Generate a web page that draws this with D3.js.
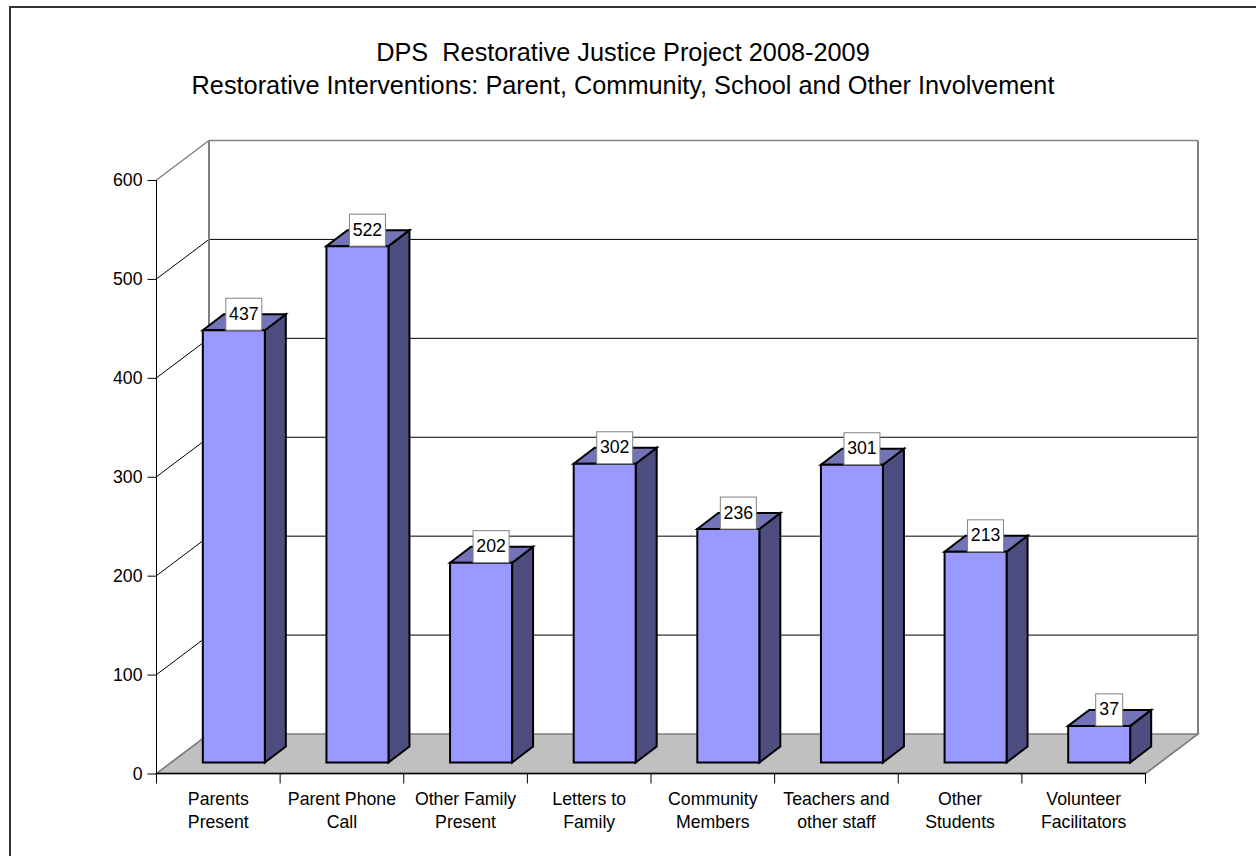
<!DOCTYPE html>
<html><head><meta charset="utf-8">
<script src="https://cdnjs.cloudflare.com/ajax/libs/d3/7.8.5/d3.min.js"></script>
<style>html,body{margin:0;padding:0;background:#fff}svg{display:block}text{font-family:"Liberation Sans",Arial,sans-serif;fill:#000}</style>
</head><body><svg id="c" width="1256" height="856"></svg>
<script>
const titleLines=["DPS  Restorative Justice Project 2008-2009","Restorative Interventions: Parent, Community, School and Other Involvement"];
const categories=[["Parents","Present"],["Parent Phone","Call"],["Other Family","Present"],["Letters to","Family"],["Community","Members"],["Teachers and","other staff"],["Other","Students"],["Volunteer","Facilitators"]];
const values=[437,522,202,302,236,301,213,37];
const yTicks=[0,100,200,300,400,500,600];

const svg=d3.select("#c");
const X0=156.5,X1=1145.5,Y0=773.5,Y6=180;
const WX=52.5,WY=39.5;          // wall depth
const BOFF=15.5,BLIFT=11;        // bar front offset from axis plane
const BDX=21,BDY=16,BW=62;       // bar depth, width
const x=d3.scaleBand().domain(d3.range(values.length)).range([X0,X1]);
const y=d3.scaleLinear().domain([0,600]).range([Y0,Y6]);

svg.append("rect").attr("x",10).attr("y",7).attr("width",1400).attr("height",1000).attr("fill","#fff").attr("stroke","#333").attr("stroke-width",2);

const poly=(pts,fill,stroke,sw)=>svg.append("polygon").attr("points",pts.map(p=>p.join(",")).join(" ")).attr("fill",fill).attr("stroke",stroke).attr("stroke-width",sw).attr("stroke-linejoin","miter");
const line=(a,b,c,sw)=>svg.append("line").attr("x1",a[0]).attr("y1",a[1]).attr("x2",b[0]).attr("y2",b[1]).attr("stroke",c).attr("stroke-width",sw);

// floor
poly([[X0,Y0],[X0+WX,Y0-WY],[X1+WX,Y0-WY],[X1,Y0]],"#c0c0c0","#808080",1.5);
// gridlines on side and back walls
yTicks.slice(1,-1).forEach(t=>{
  line([X0,y(t)],[X0+WX,y(t)-WY],"#000",1);
  line([X0+WX,y(t)-WY],[X1+WX,y(t)-WY],"#000",1);
});
// wall outline
line([X0,Y6],[X0+WX,Y6-WY],"#808080",1.5);
line([X0+WX,Y6-WY],[X1+WX,Y6-WY],"#808080",1.5);
line([X0+WX,Y6-WY],[X0+WX,Y0-WY],"#808080",2);
line([X1+WX,Y6-WY],[X1+WX,Y0-WY],"#808080",2);
line([X0,Y0],[X0+WX,Y0-WY],"#808080",1.5);
line([X1,Y0],[X1+WX,Y0-WY],"#808080",1.5);

// axes
const yAxis=d3.axisLeft(y).tickValues(yTicks).tickSize(9).tickPadding(5).tickFormat(d3.format("d"));
const ya=svg.append("g").attr("transform",`translate(${X0},0)`).call(yAxis);
ya.select(".domain").attr("d",`M0,${Y6}V${Y0}`).attr("stroke","#000");
ya.selectAll("text").style("font-size","17.7px").attr("dy","0.33em");
const tickPos=d3.range(values.length+1).map(i=>i<values.length?x(i):X1);
line([X0,Y0],[X1,Y0],"#000",1.3);
tickPos.forEach(p=>line([p,Y0],[p,Y0+10],"#000",1));

// bars
const stroke="#000",sw=2;
values.forEach((v,i)=>{
  const L=x(i)+x.bandwidth()/2+BOFF-BW/2,R=L+BW;
  const B=Y0-BLIFT,T=B-(Y0-y(v));
  poly([[R,T],[R+BDX,T-BDY],[R+BDX,B-BDY],[R,B]],"#4d4d80",stroke,sw);
  poly([[L,T],[L+BDX,T-BDY],[R+BDX,T-BDY],[R,T]],"#7373b8",stroke,sw);
  poly([[L,T],[R,T],[R,B],[L,B]],"#9999ff",stroke,sw);
});
// data labels
values.forEach((v,i)=>{
  const cx=x(i)+x.bandwidth()/2+BOFF+10;
  const T=Y0-BLIFT-(Y0-y(v));
  const w=v<100?27:36,h=32;
  svg.append("rect").attr("x",cx-w/2).attr("y",T-h).attr("width",w).attr("height",h).attr("fill","#fff").attr("stroke","#808080").attr("stroke-width",1);
  svg.append("text").attr("x",cx).attr("y",T-10.5).attr("text-anchor","middle").style("font-size","17.7px").text(v);
});
// category labels
categories.forEach((c,i)=>{
  const t=svg.append("text").attr("text-anchor","middle").style("font-size","17.7px");
  c.forEach((s,j)=>t.append("tspan").attr("x",x(i)+x.bandwidth()/2).attr("y",805+j*23).text(s));
});
// title
titleLines.forEach((s,j)=>svg.append("text").attr("x",623).attr("y",61+j*33).attr("text-anchor","middle").attr("xml:space","preserve").style("white-space","pre").style("font-size","25.3px").text(s));
</script></body></html>
